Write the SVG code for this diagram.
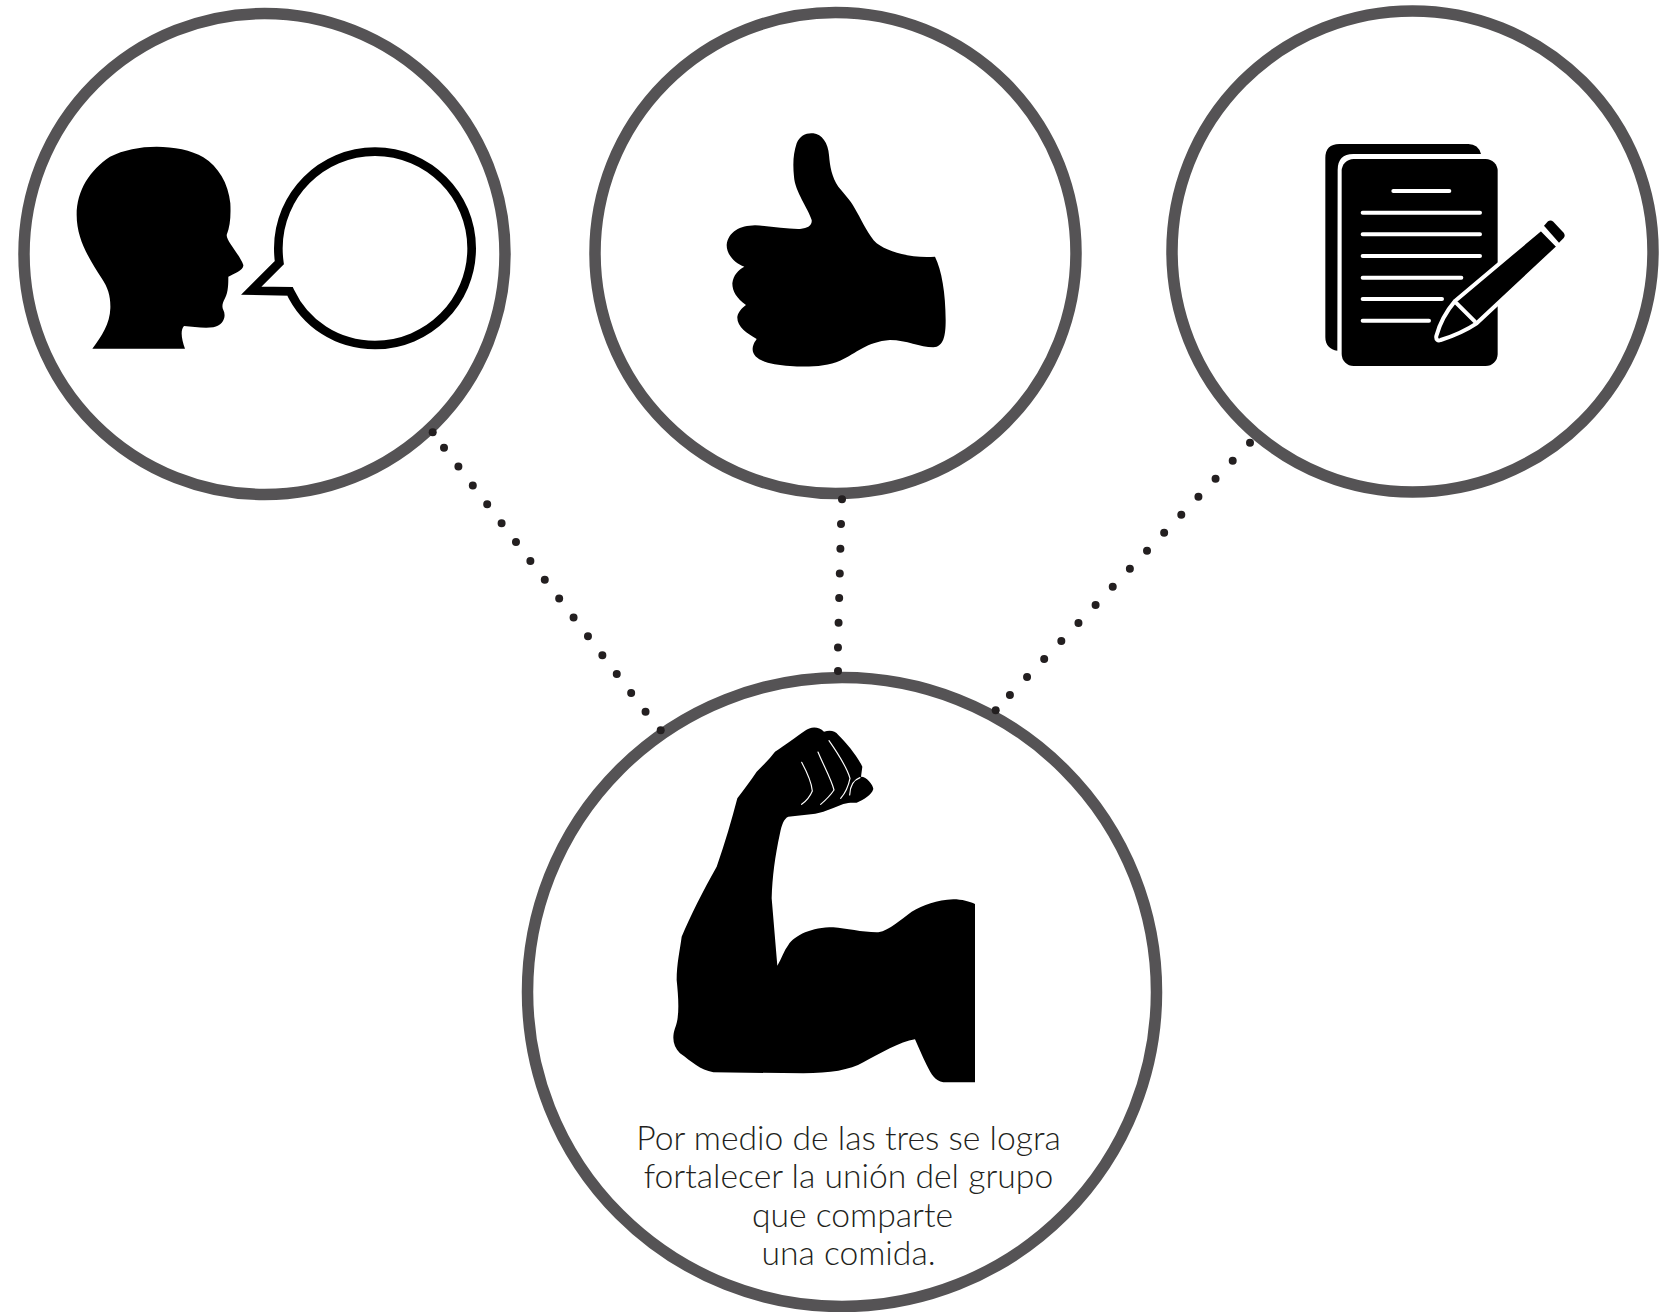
<svg xmlns="http://www.w3.org/2000/svg" width="1678" height="1312" viewBox="0 0 1678 1312">
<style>
.ring{fill:#fff;stroke:#555355;stroke-width:11.5}
.conn{fill:none;stroke:#231f20;stroke-width:8;stroke-linecap:round}
.dot{fill:#231f20}
.ink{fill:#000}
.wl{fill:none;stroke:#fff;stroke-linecap:round}
.cap{font-family:"Lato","Liberation Sans",sans-serif;font-weight:300;font-size:33.7px;fill:#231f20;text-anchor:middle}
</style>
<rect width="1678" height="1312" fill="#fff"/>
<g id="node-speak">
<circle class="ring" cx="264.5" cy="254" r="240.5"/>
<g transform="translate(60 120) scale(.33333)">
<path class="ink" d="M97 686H375C365 660 360 630 372 618C400 620 430 626 460 622C490 615 500 590 490 570C485 560 487 550 495 535C505 515 505 490 505 470C520 462 552 450 550 435C540 405 500 365 500 345C510 320 513 290 511 250C505 190 475 140 430 112C395 90 340 80 290 80C240 80 190 90 150 110C90 150 50 210 50 285C50 360 90 420 125 475C145 505 152 530 151 565C150 610 125 650 97 686Z"/>
<path d="M658 428L574 512L690 514C735 610 830 675 945 675C1105 675 1235 545 1235 385C1235 225 1105 95 945 95C785 95 655 225 655 385C655 398 656 414 658 428Z" fill="#fff" stroke="#000" stroke-width="26" stroke-linejoin="miter"/>
</g>
</g>
<g id="node-thumb">
<circle class="ring" cx="835.5" cy="253" r="240.5"/>
<g transform="translate(700 120) scale(.33333)">
<path class="ink" d="M705 410C725 450 737 520 737 600C737 650 730 680 700 682C660 682 620 660 570 660C500 665 470 700 420 722C380 740 320 742 270 738C210 735 155 720 158 685C160 670 165 665 170 657C140 640 110 620 112 590C115 575 125 565 138 555C110 535 97 515 97 490C100 465 115 450 133 440C105 430 80 405 80 375C85 335 120 317 165 316C210 318 260 328 300 327C325 325 337 315 335 300C325 265 285 215 282 170C278 130 280 100 290 70C300 45 320 38 340 40C365 42 385 70 387 105C390 140 395 170 415 200C440 230 455 245 470 275C490 310 505 345 530 370C570 400 640 415 705 410Z"/>
</g>
</g>
<g id="node-write">
<circle class="ring" cx="1412.5" cy="251.5" r="240.5"/>
<g transform="translate(1310 130) scale(.33333)">
<path class="ink" d="M82 662C60 660 46 645 46 622V84Q46 42 88 42H475Q505 42 513 72H130Q83 72 83 120Z"/>
<rect class="ink" x="95" y="87" width="468" height="621" rx="36"/>
<path class="wl" stroke-width="12" d="M250 183H418M158 248H510M158 313H510M158 378H510M158 443H454M158 507H396M158 572H357"/>
<path class="ink" d="M693 296L436 512C408 545 388 585 379 618C377 630 384 633 392 630C430 618 470 600 500 580L746 350Z" stroke="#fff" stroke-width="12" stroke-linejoin="round"/>
<path class="wl" stroke-width="12" d="M440 520L495 575"/>
<path class="ink" d="M702 287L714 274Q722 269 730 275L761 308Q767 317 761 324L747 338Z"/>
</g>
</g>
<g id="connectors">
<path class="conn" stroke-dasharray="0 23.73" d="M444 447.7L648 715"/>
<path class="conn" stroke-dasharray="0 24.7" d="M841 524L837.9 650"/>
<path class="conn" stroke-dasharray="0 24.87" d="M1232.7 460.7L1008 697"/>
</g>
<g id="node-arm">
<circle class="ring" cx="842" cy="992" r="314.5"/>
<g transform="translate(660 710) scale(.33333)">
<path class="ink" d="M945 582V1117H850C825 1112 815 1095 800 1065C785 1035 775 1010 765 988C720 995 660 1030 610 1057C570 1080 510 1090 430 1090L160 1087C120 1080 95 1055 60 1030C40 1010 35 985 45 955C60 920 55 860 50 810C50 760 60 720 65 680C90 620 130 540 170 470C195 400 215 330 232 265C250 240 270 215 290 185C310 165 330 145 345 125C375 105 410 80 435 62C450 50 475 47 492 65C510 60 525 62 535 75C560 100 590 135 607 170L603 200C620 200 640 225 640 237C635 255 610 270 590 278C575 278 565 277 550 282C530 290 510 298 490 305C460 315 420 315 385 320C372 325 365 345 360 370C345 440 337 500 335 565L352 767C365 745 372 722 385 705C405 675 455 652 520 652C560 655 610 668 655 667C690 660 720 630 755 605C790 585 830 570 880 568C905 568 930 575 945 582Z"/>
<path class="wl" stroke-width="3.5" d="M425 157C440 185 455 220 457 243C450 260 440 272 425 283M474 126C490 165 515 210 522 240C510 258 495 272 482 283M507 92C530 125 560 170 570 205C565 230 555 250 542 265M600 203C580 210 570 230 569 255"/>
</g>
<text class="cap" x="848.5" y="1150">Por medio de las tres se logra</text>
<text class="cap" x="848.5" y="1188">fortalecer la unión del grupo</text>
<text class="cap" x="852.5" y="1227">que comparte</text>
<text class="cap" x="848.5" y="1265">una comida.</text>
</g>
<g id="connector-ends">
<circle class="dot" cx="432.7" cy="432.3" r="4"/><circle class="dot" cx="660.7" cy="730.3" r="4"/>
<circle class="dot" cx="842" cy="499.3" r="4"/><circle class="dot" cx="838" cy="671" r="4"/>
<circle class="dot" cx="1250" cy="442.7" r="4"/><circle class="dot" cx="995.7" cy="710.3" r="4"/>
</g>
</svg>
